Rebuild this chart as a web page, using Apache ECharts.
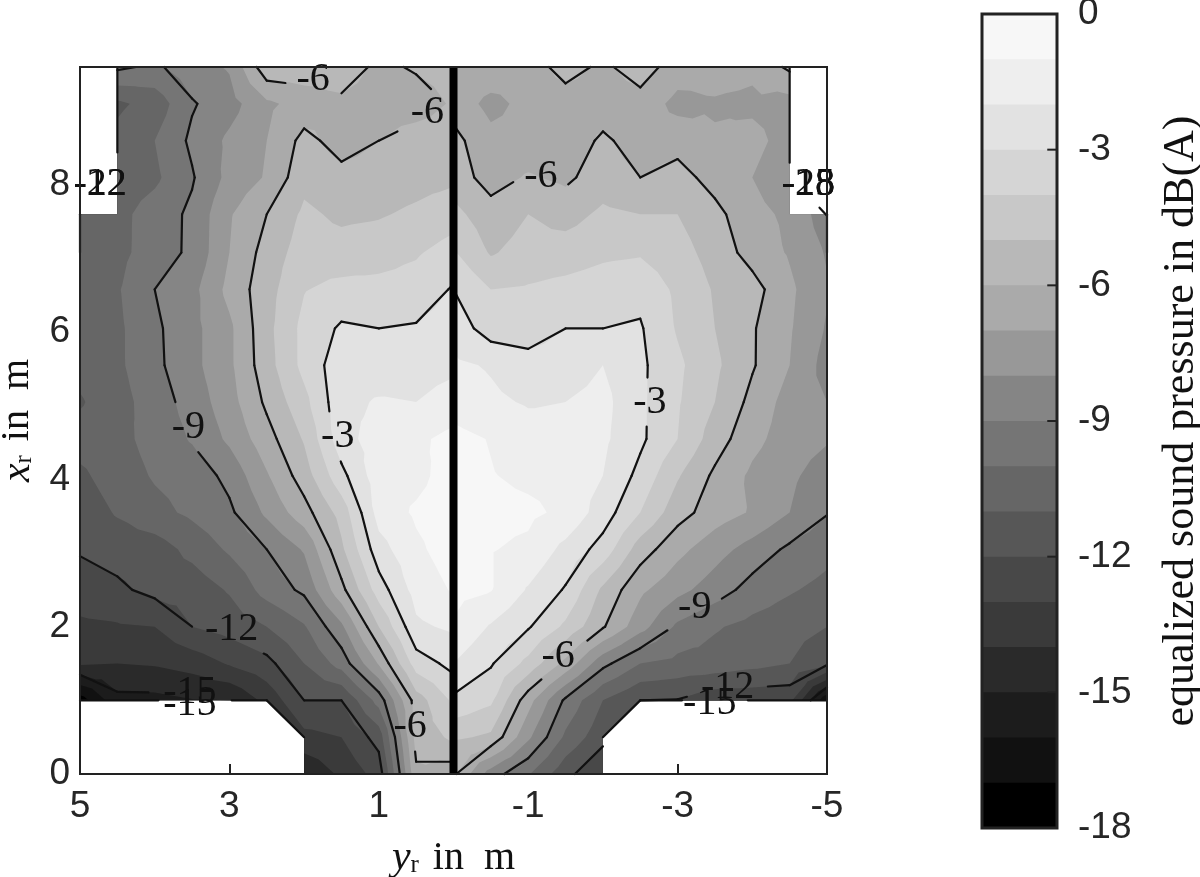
<!DOCTYPE html>
<html>
<head>
<meta charset="utf-8">
<style>html,body{margin:0;padding:0;background:#fff}#main{width:1200px;height:877px}</style>
<script src="https://cdn.jsdelivr.net/npm/echarts@6/dist/echarts.min.js"></script>
</head>
<body>
<div id="main"></div>
<script>
var xRows = [0,0.5,1,1.5,2,2.5,3.05,3.55,4.05,4.55,5.05,5.55,6.05,6.58,7.08,7.6,8.1,8.6,9.1,9.6];
var yLeft = [5,4.5,4,3.5,3,2.5,2,1.5,1,0.5,0];
var yRight = [0,-0.5,-1,-1.5,-2,-2.5,-3,-3.5,-4,-4.5,-5];
var n = null;

// equalized sound pressure in dB(A), one row per xRows entry
var leftValues = [
	[n,n,n,n,n,n,-14.9,-13.8,-12.6,-6.2,-6.6],
	[n,n,n,n,n,n,-13.3,-13,-11.6,-5.6,-4.8],
	[-17.5,-15.3,-15.3,-15.05,-15,-13.7,-12,-12,-9.6,-5.5,-3.8],
	[-13.9,-14,-13.9,-13.6,-12.9,-12.3,-11,-9.6,-6.9,-3.5,-2.7],
	[-13.2,-13.1,-13,-12,-11.6,-11,-10.1,-8.2,-5,-2.2,-1.8],
	[-12.5,-12.2,-11.7,-11.6,-10.9,-9.6,-8.8,-6.3,-3.5,-1.6,-0.9],
	[-11.9,-11.6,-11.5,-10.7,-9.85,-9,-7.9,-5.2,-2.4,-1.2,-0.5],
	[-11.6,-10.9,-10.3,-9.8,-9.2,-7.8,-6.4,-4.6,-1.6,-0.85,-0.4],
	[-11.2,-10.5,-9.9,-9.6,-8.7,-7.1,-5.5,-3.3,-1.4,-1.3,-0.5],
	[-10.6,-10.3,-9.65,-8.9,-7.8,-6.4,-4.9,-2.4,-1.5,-1.2,-0.7],
	[-11.1,-10.4,-9.5,-8.6,-7.4,-5.8,-4.3,-2.3,-1.9,-2,-1.6],
	[-10.7,-10.2,-9.25,-8.3,-7.2,-5.4,-3.7,-2.4,-2.6,-2.4,-2.2],
	[-10.6,-10.2,-9.2,-8.3,-7.2,-5.3,-3.7,-2.85,-3,-2.9,-2.5],
	[-10.4,-10.1,-9,-8.3,-6.7,-5.4,-4.05,-3.7,-3.7,-3.6,-2.9],
	[-10.6,-10.3,-9.5,-8.8,-7,-5.6,-4.5,-4.6,-4.4,-4.1,-3.6],
	[-10.8,-10.3,-9.55,-8.8,-7.1,-6,-4.8,-5.2,-5.1,-4.8,-4.4],
	[n,-10.6,-10.2,-9.1,-7.7,-6.9,-5.3,-5.7,-5.6,-5.4,-5.2],
	[n,-10.7,-10,-8.8,-7.8,-7,-5.7,-6.4,-6,-5.6,-5.5],
	[n,-11.2,-10.6,-9.1,-8.4,-7.2,-6.6,-6.2,-6.4,-6.4,-5.9],
	[n,-8.8,-9.2,-8.4,-7.9,-5.3,-5.4,-5.5,-6.2,-5.9,-5.7]
];
var rightValues = [
	[-5.8,-8.5,-9.9,-11.7,-12.9,n,n,n,n,n,n],
	[-4.8,-5.2,-7.8,-10.2,-11.7,n,n,n,n,n,n],
	[-3.2,-3.8,-6.6,-9.2,-11,-12,-12.05,-12.7,-12.7,-12.7,-16.8],
	[-2,-2.9,-4.3,-6.3,-8.7,-10,-10.3,-10.4,-10.7,-11,-11.8],
	[-1.1,-2.1,-2.9,-4.2,-5.9,-7.6,-9.2,-9.9,-10.3,-10.6,-11],
	[-0.7,-0.95,-2.1,-3.1,-5.2,-6.8,-7.7,-8.5,-9.4,-9.9,-10.3],
	[-0.7,-0.95,-1.2,-2.3,-3.4,-5.5,-6.7,-7.6,-8.4,-9.2,-9.7],
	[-0.5,-0.7,-0.8,-1.2,-2.5,-4,-5.6,-6.5,-7.1,-8,-8.95],
	[-0.6,-0.95,-1.2,-1.3,-2,-3.3,-4.9,-6.2,-7.2,-7.8,-8.5],
	[-0.7,-1.05,-1.5,-1.6,-1.8,-2.8,-4,-5.5,-6.7,-7.5,-7.9],
	[-1.4,-1.8,-2.1,-2,-1.7,-2.8,-3.9,-5,-6.3,-7.4,-8],
	[-1.8,-2.1,-2.6,-2.5,-2,-2.8,-3.8,-4.8,-5.9,-7,-8.4],
	[-2.4,-3.5,-3.5,-3,-3,-2.9,-4.1,-5,-5.9,-6.9,-8.1],
	[-3,-4,-3.9,-3.7,-3.5,-3.3,-4.2,-5.1,-5.6,-6.8,-7.9],
	[-3.9,-5.1,-4.6,-4.5,-4.2,-4.1,-4.6,-5.4,-6.4,-7.1,-8.1],
	[-4.7,-5.6,-5,-5.4,-4.8,-5,-5,-5.7,-6.7,-7.2,-8.6],
	[-5.5,-6.4,-5.9,-6.2,-5.5,-6,-5.6,-6.4,-7,-7.7,n],
	[-5.7,-6.7,-6.6,-6.7,-5.8,-6.5,-6.4,-6.9,-6.7,-7.4,n],
	[-6.4,-7.3,-6.7,-6.5,-6.6,-6.4,-7.3,-7.1,-7.2,-7.4,n],
	[-6.1,-6.3,-6.5,-5.6,-6.2,-5.5,-6.5,-6.6,-6.8,-5.8,n]
];

// filled levels, lowest band first
var bandLevels = [-18,-17,-16,-15,-14,-13,-12,-11,-10,-9,-8,-7,-6,-5,-4,-3,-2,-1,0];
var bandColors = ['#000000','#111111','#1c1c1c','#2a2a2a','#3a3a3a','#484848','#575757','#666666','#757575','#858585','#989898','#aaaaaa','#b8b8b8','#c8c8c8','#d5d5d5','#e2e2e2','#eeeeee','#f7f7f7'];
var lineLevels = [-15,-12,-9,-6,-3];
var colorBarTicks = [-15,-12,-9,-6,-3];

// clabel texts: y_r, x_r, text
var contourLabels = [
	[1.88,9.43,'-6'],[0.35,8.98,'-6'],[3.55,4.7,'-9'],[1.55,4.58,'-3'],[2.97,1.96,'-12'],
	[3.53,1.1,'-15'],[3.53,0.94,'-15'],[0.58,0.64,'-6'],[4.73,8,'-12'],[4.73,8,'-22'],
	[-1.17,8.11,'-6'],[-2.63,5.04,'-3'],[-3.23,2.26,'-9'],[-1.4,1.6,'-6'],[-3.67,1.18,'-12'],
	[-3.43,0.96,'-15'],[-4.75,8,'-15'],[-4.75,8,'-18'],[-4.75,8,'-28']
];
// contour pieces that run along the edges of the blanked areas
var edgeLines = [
	[[4.5,9.6],[4.5,8.44]],[[-4.5,9.6],[-4.5,8.3]],
	[[2.5,1],[2,0.5]],[[-2,0.5],[-2.5,1]],
	[[5,1],[3.95,1]],[[2.97,1],[2.5,1]],[[-2.5,1],[-3.06,1]],[[-3.94,1],[-5,1]],
	[[-4.9,7.69],[-5,7.58]],[[-5,7.6],[-5,7.08]],[[5,7.6],[5,7.08]]
];

function cutAbove(poly,lvl){
	var out = [];
	for(var i=0;i<poly.length;i++){
		var p = poly[i], q = poly[(i+1)%poly.length];
		if(p[2]>=lvl) out.push(p);
		if((p[2]>=lvl)!=(q[2]>=lvl)){
			var t = (lvl-p[2])/(q[2]-p[2]);
			out.push([p[0]+t*(q[0]-p[0]),p[1]+t*(q[1]-p[1]),lvl]);
		}
	}
	return out;
}

// one list of polygons per band, each covering everything above its lower level
var bandPolys = bandColors.map(function(){return [];});
var segs = [];

function addFill(tri){
	var hi = Math.max(tri[0][2],tri[1][2],tri[2][2]);
	for(var b=0;b<bandColors.length;b++){
		if(hi<bandLevels[b]) break;
		var poly = cutAbove(tri,bandLevels[b]);
		if(poly.length>2) bandPolys[b].push(poly);
	}
}

function inGap(pt,lvl){
	return contourLabels.some(function(l){
		if(parseInt(l[2])!=lvl) return false;
		var w = l[2].length>2 ? 0.52 : 0.36;
		return Math.abs(pt[0]-l[0])<w && Math.abs(pt[1]-l[1])<0.31;
	});
}

// leave the line open under its label, as clabel does
function addSegment(a,b,lvl){
	var run = null;
	for(var s=0;s<=12;s++){
		var pt = [a[0]+(b[0]-a[0])*s/12,a[1]+(b[1]-a[1])*s/12];
		if(inGap(pt,lvl)){
			if(run&&run[0]!==run[1]) segs.push(run);
			run = null;
		}else{
			if(!run) run = [pt,pt];
			else run[1] = pt;
		}
	}
	if(run&&run[0]!==run[1]) segs.push(run);
}

// crossings of a level around a closed ring of corners, null where an edge is not crossed
function crossings(ring,lvl){
	return ring.map(function(p,i){
		var q = ring[(i+1)%ring.length];
		if((p[2]<lvl)==(q[2]<lvl)) return null;
		var t = (lvl-p[2])/(q[2]-p[2]);
		return [p[0]+t*(q[0]-p[0]),p[1]+t*(q[1]-p[1])];
	});
}

function addLines(ring,mid){
	lineLevels.forEach(function(lvl){
		var e = crossings(ring,lvl);
		var hit = e.filter(function(h){return h;});
		if(hit.length==2){
			addSegment(hit[0],hit[1],lvl);
		}else if(hit.length==4){
			// saddle, settled by the cell mean
			if((mid<lvl)==(ring[0][2]<lvl)){
				addSegment(e[0],e[1],lvl);
				addSegment(e[2],e[3],lvl);
			}else{
				addSegment(e[1],e[2],lvl);
				addSegment(e[3],e[0],lvl);
			}
		}
	});
}

function addSurface(cols,values){
	for(var i=0;i<xRows.length-1;i++){
		for(var j=0;j<cols.length-1;j++){
			var c = [[cols[j],xRows[i],values[i][j]],[cols[j+1],xRows[i],values[i][j+1]],
				[cols[j+1],xRows[i+1],values[i+1][j+1]],[cols[j],xRows[i+1],values[i+1][j]]];
			var ok = c.filter(function(p){return p[2]!==null;});
			if(ok.length==4){
				var mid = (c[0][2]+c[1][2]+c[2][2]+c[3][2])/4;
				var m = [(c[0][0]+c[1][0])/2,(c[0][1]+c[3][1])/2,mid];
				for(var k=0;k<4;k++) addFill([c[k],c[(k+1)%4],m]);
				addLines(c,mid);
			}else if(ok.length==3&&i<2){
				// chamfered corners next to the blanked floor areas
				addFill(ok);
				addLines(ok,0);
			}
		}
	}
}
addSurface(yLeft,leftValues);
addSurface(yRight,rightValues);

var serif = '"Liberation Serif"';
var sans = '"Liberation Sans"';
var myChart = echarts.init(document.getElementById('main'));

function lineSeries(list,width,color,z,axisIndex,cap){
	return {
		type:'custom',xAxisIndex:axisIndex||0,yAxisIndex:axisIndex||0,z:z,silent:true,clip:false,
		data:list.map(function(s,i){return [i];}),
		renderItem:function(params,api){
			var pts = list[params.dataIndex].map(function(p){return api.coord(p);});
			return {type:'polyline',shape:{points:pts},style:{stroke:color,lineWidth:width,fill:null,lineCap:cap||'round',lineJoin:'round'}};
		}
	};
}

var titleRich = {
	i:{fontFamily:serif,fontStyle:'italic',fontSize:42,color:'#111'},
	s:{fontFamily:serif,fontSize:25,color:'#111',padding:[14,0,0,0]},
	t:{fontFamily:serif,fontSize:40,color:'#111',padding:[0,0,0,14]}
};

var option = {
	animation:false,
	backgroundColor:'#fff',
	grid:[
		{left:80,top:67,width:747,height:707,outerBoundsMode:'none'},
		{left:982,top:14,width:75,height:814,outerBoundsMode:'none'}
	],
	xAxis:[{
		type:'value',gridIndex:0,min:-5,max:5,interval:2,inverse:true,
		name:'{i|y}{s|r}{t|in  m}',nameLocation:'middle',nameGap:63,
		nameTextStyle:{rich:titleRich},
		axisLine:{lineStyle:{color:'#222',width:2}},
		axisTick:{inside:true,length:10,lineStyle:{color:'#222',width:2}},
		axisLabel:{fontFamily:sans,fontSize:37,color:'#262626',margin:14},
		splitLine:{show:false}
	},{
		type:'value',gridIndex:1,min:0,max:1,show:false
	}],
	yAxis:[{
		type:'value',gridIndex:0,min:0,max:9.6,interval:2,
		name:'{i|x}{s|r}{t|in  m}',nameLocation:'middle',nameGap:30,nameRotate:90,
		nameTextStyle:{rich:titleRich},
		axisLine:{lineStyle:{color:'#222',width:2}},
		axisTick:{inside:true,length:10,lineStyle:{color:'#222',width:2}},
		axisLabel:{fontFamily:sans,fontSize:37,color:'#262626',margin:10,padding:[4,0,0,0],showMaxLabel:false},
		splitLine:{show:false}
	},{
		type:'value',gridIndex:1,min:-18,max:0,interval:3,position:'right',
		name:'equalized sound pressure in dB(A)',nameLocation:'middle',nameGap:102,nameRotate:90,
		nameTextStyle:{fontFamily:serif,fontSize:44,color:'#111'},
		axisLine:{show:true,lineStyle:{color:'#222',width:2}},
		axisTick:{show:false},
		axisLabel:{fontFamily:sans,fontSize:37,color:'#262626',margin:21,padding:[6,0,0,0]},
		splitLine:{show:false}
	}],
	series:[{
		type:'custom',xAxisIndex:0,yAxisIndex:0,z:2,silent:true,
		data:bandColors.map(function(c,i){return [i];}),
		renderItem:function(params,api){
			var b = params.dataIndex;
			var d = bandPolys[b].map(function(poly){
				return poly.map(function(q,k){
					var pt = api.coord([q[0],q[1]]);
					return (k?'L':'M')+pt[0].toFixed(2)+' '+pt[1].toFixed(2);
				}).join('')+'Z';
			}).join('');
			return {type:'path',shape:{pathData:d||'M0 0'},style:{fill:bandColors[b]}};
		}
	},
	lineSeries(segs,2.2,'#111',3),
	lineSeries(edgeLines,2.2,'#111',3),
	lineSeries([[[0,0],[0,9.6]]],8,'#000',4,0,'butt'),
	{
		type:'custom',xAxisIndex:0,yAxisIndex:0,z:6,silent:true,clip:false,
		data:contourLabels.map(function(l,i){return [i];}),
		renderItem:function(params,api){
			var l = contourLabels[params.dataIndex];
			var pt = api.coord([l[0],l[1]]);
			return {type:'text',x:pt[0],y:pt[1],style:{text:l[2],fontFamily:serif,fontSize:40,fill:'#111',align:'center',verticalAlign:'middle'}};
		}
	},{
		// plot frame, above the fill
		type:'custom',xAxisIndex:0,yAxisIndex:0,z:7,silent:true,clip:false,
		data:[[0]],
		renderItem:function(params,api){
			var a = api.coord([5,9.6]), b = api.coord([-5,0]);
			return {type:'rect',shape:{x:a[0],y:a[1],width:b[0]-a[0],height:b[1]-a[1]},style:{fill:null,stroke:'#222',lineWidth:2}};
		}
	},{
		// colour bar, each band painted from its lower level up to the top so no seams show
		type:'custom',xAxisIndex:1,yAxisIndex:1,z:2,silent:true,
		data:bandColors.map(function(c,i){return [i];}),
		renderItem:function(params,api){
			var i = params.dataIndex;
			var a = api.coord([0,0]), b = api.coord([1,bandLevels[i]]);
			return {type:'rect',shape:{x:a[0],y:a[1],width:b[0]-a[0],height:b[1]-a[1]},style:{fill:bandColors[i]}};
		}
	},
	lineSeries(colorBarTicks.map(function(t){return [[0.87,t],[1,t]];}),2,'#222',6,1,'butt'),
	{
		type:'custom',xAxisIndex:1,yAxisIndex:1,z:7,silent:true,clip:false,
		data:[[0]],
		renderItem:function(params,api){
			var a = api.coord([0,0]), b = api.coord([1,-18]);
			return {type:'rect',shape:{x:a[0],y:a[1],width:b[0]-a[0],height:b[1]-a[1]},style:{fill:null,stroke:'#222',lineWidth:3}};
		}
	}]
};
myChart.setOption(option);
</script>
</body>
</html>
